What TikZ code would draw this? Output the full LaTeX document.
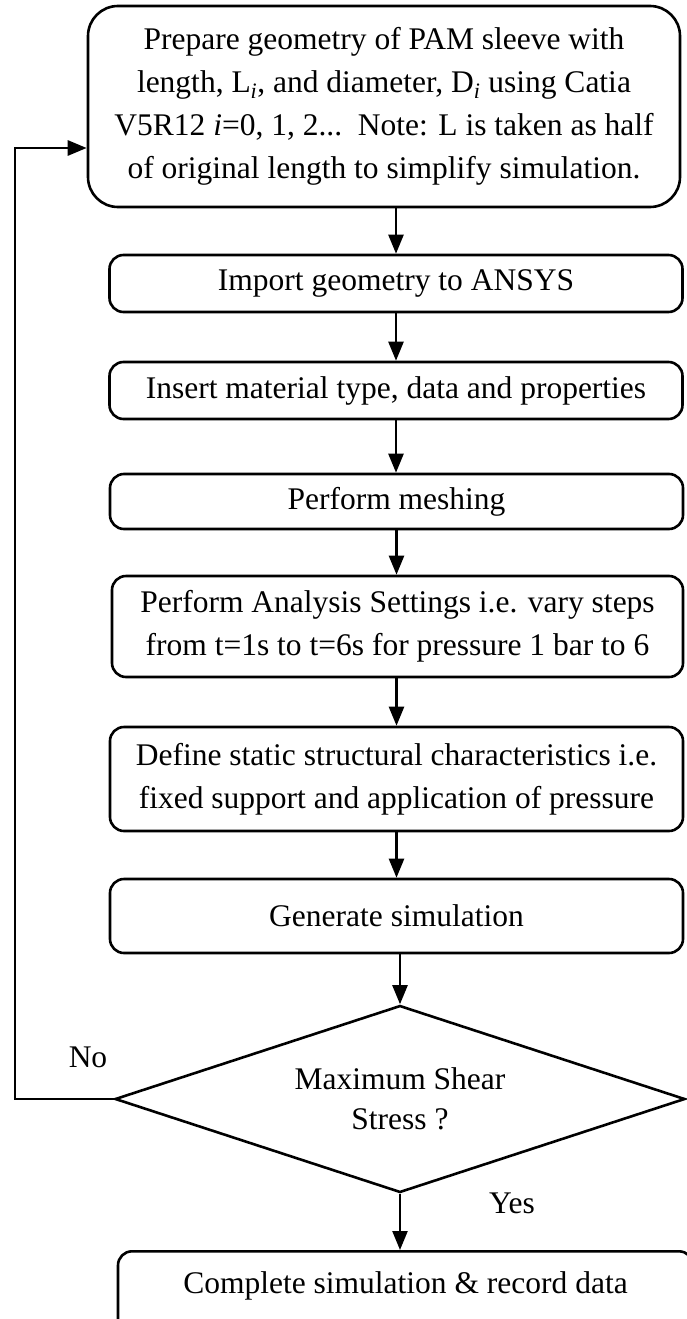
\documentclass[tikz,border=0pt]{standalone}
\usepackage{fontspec}
\setmainfont{Liberation Serif}
\usetikzlibrary{shapes.geometric,arrows.meta}
\begin{document}
\begin{tikzpicture}[x=1pt,y=-1pt,
  box/.style={draw,line width=2.6pt,rounded corners=14pt,align=center,inner sep=0pt,
    minimum width=573pt,font=\fontsize{31.5pt}{43pt}\selectfont},
  arr/.style={line width=2.4pt,-{Triangle[length=19pt,width=15pt]}},
  lbl/.style={font=\fontsize{31.5pt}{36pt}\selectfont,inner sep=0pt}]
\useasboundingbox (0,0) rectangle (687,1319);
\clip (0,0) rectangle (687,1319);
\node[box,rounded corners=30pt,minimum width=592pt,minimum height=201pt] (b1) at (384,106.5)
  {Prepare geometry of PAM sleeve with\\
   length, L\textsubscript{\textit{i}}, and diameter, D\textsubscript{\textit{i}} using Catia\\
   V5R12 \textit{i}=0, 1, 2...\ \ Note: L is taken as half\\
   of original length to simplify simulation.};
\node[box,minimum height=57pt] (b2) at (396,283.5) {Import geometry to ANSYS};
\node[box,minimum height=57pt] (b3) at (396,390.5) {Insert material type, data and properties};
\node[box,minimum height=55pt] (b4) at (396.5,501.5) {Perform meshing};
\node[box,minimum height=101pt,minimum width=571pt] (b5) at (397.5,626.5)
  {Perform Analysis Settings i.e. vary steps\\ from t=1s to t=6s for pressure 1 bar to 6};
\node[box,minimum height=104pt] (b6) at (396.5,779)
  {Define static structural characteristics i.e.\\ fixed support and application of pressure};
\node[box,minimum height=74pt] (b7) at (396.5,916) {Generate simulation};
\node[draw,line width=2.6pt,shape=diamond,shape aspect=3.05,inner sep=0pt,
  minimum width=570pt,minimum height=187pt,align=center,
  font=\fontsize{31.5pt}{40pt}\selectfont] (d) at (400,1099) {Maximum Shear\\ Stress ?};
\node[box,anchor=north,minimum width=575pt,text height=42pt,text depth=58pt] (b8) at (405.5,1250)
  {Complete simulation \& record data};
\node[lbl] (no) at (88,1057) {No};
\node[lbl] (yes) at (512,1203) {Yes};
\coordinate (lx) at (15,0);
\draw[arr] (b1.south -| b2.north) -- (b2.north);
\draw[arr] (b2.south) -- (b3.north);
\draw[arr] (b3.south) -- (b3.south |- b4.north);
\draw[arr] (b4.south) -- (b4.south |- b5.north);
\draw[arr] (b5.south -| b6.north) -- (b6.north);
\draw[arr] (b6.south) -- (b7.north);
\draw[arr] (b7.south -| d.north) -- (d.north);
\draw[arr] (d.south) -- (d.south |- b8.north);
\draw[arr,line width=2.8pt] (d.west) -- (d.west -| lx) |- ([yshift=-41.5pt]b1.west);
\end{tikzpicture}
\end{document}
